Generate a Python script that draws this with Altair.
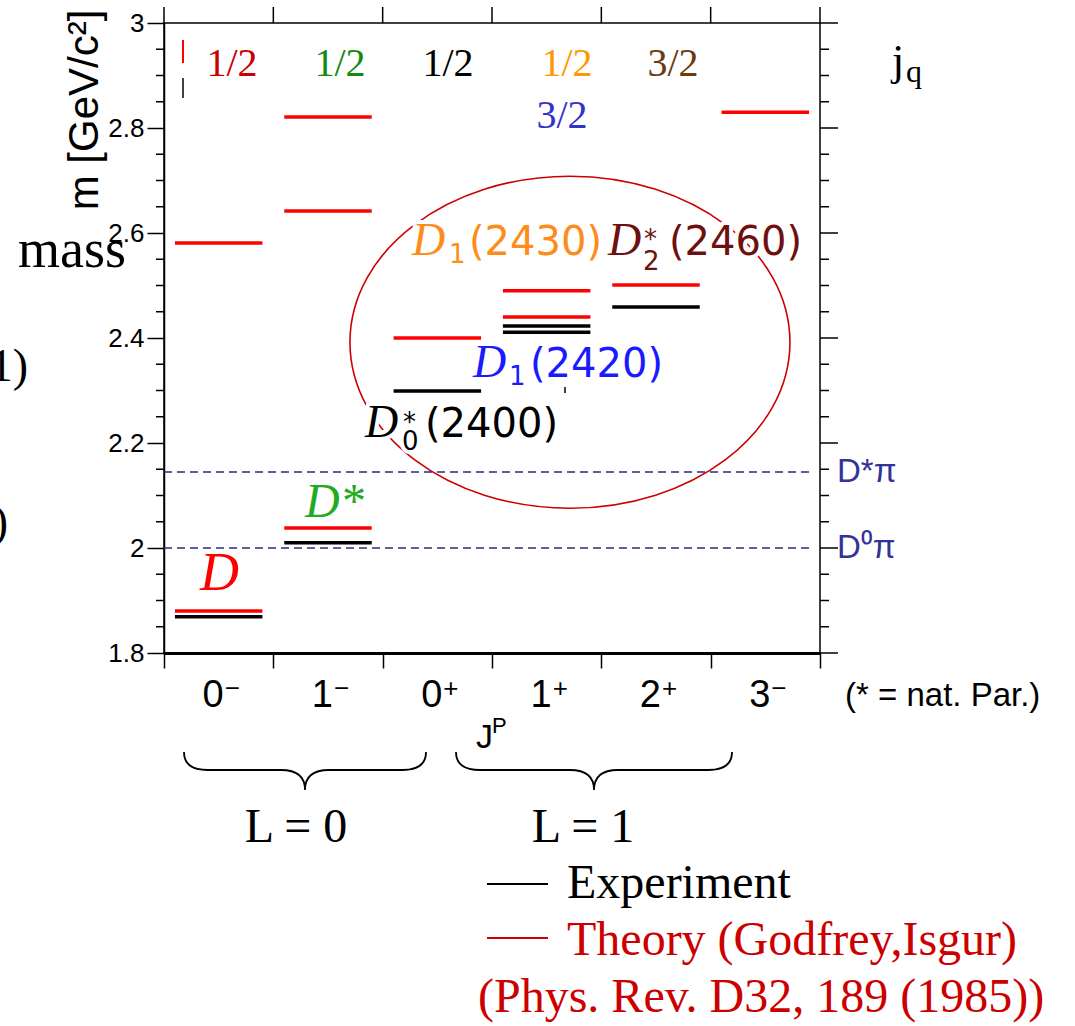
import altair as alt
import pandas as pd

# ---------------- data ----------------
jp_spin = ["0", "1", "0", "1", "2", "3"]
jp_parity = ["−", "−", "+", "+", "+", "−"]

theory_idx = [0, 0, 1, 1, 1, 2, 3, 3, 4, 5]
theory_mass = [1.880, 2.581, 2.038, 2.642, 2.821, 2.400, 2.440, 2.490, 2.501, 2.830]
exp_idx = [0, 1, 2, 3, 3, 4]
exp_mass = [1.869, 2.010, 2.299, 2.411, 2.423, 2.459]

thr_mass = [2.145, 2.000]
thr_text = ["D*π", "D⁰π"]

y_major = [1.8, 2.0, 2.2, 2.4, 2.6, 2.8, 3.0]
y_minor = [1.85, 1.9, 1.95, 2.05, 2.1, 2.15, 2.25, 2.3, 2.35, 2.45, 2.5, 2.55,
           2.65, 2.7, 2.75, 2.85, 2.9, 2.95]
x_ticks = [0, 1, 2, 3, 4, 5, 6]

# ---------------- layout ----------------
W, H = 656, 630
L0, T0 = 164, 23
xs = alt.Scale(domain=[0, 6], nice=False, zero=False)
ys = alt.Scale(domain=[1.8, 3.0], nice=False, zero=False)

BLUE = "#1a1aff"
ORANGE = "#ff8c1a"
MAROON = "#6e1010"


def pix_df(rows):
    df = pd.DataFrame(rows, columns=["text", "x", "y", "size", "color"])
    df["px"] = df["x"] - L0
    df["py"] = df["y"] - T0
    return df


def text_layer(rows, font, style="normal", align="left", halo=False):
    df = pix_df(rows)
    enc = dict(
        x=alt.X("px:Q", scale=None),
        y=alt.Y("py:Q", scale=None),
        text=alt.Text("text:N"),
        size=alt.Size("size:Q", scale=None, legend=None),
    )
    if halo:
        return alt.Chart(df).mark_text(font=font, fontStyle=style, align=align,
                                       baseline="alphabetic", fill="white",
                                       stroke="white", strokeWidth=8,
                                       strokeJoin="round").encode(**enc)
    return alt.Chart(df).mark_text(font=font, fontStyle=style, align=align,
                                   baseline="alphabetic").encode(
        color=alt.Color("color:N", scale=None, legend=None), **enc)


serif_center = [
    ("1/2", 232, 76, 40, "#cc0000"),
    ("1/2", 340, 76, 40, "#138a13"),
    ("1/2", 448, 76, 40, "#000000"),
    ("1/2", 567, 76, 40, "#ff9900"),
    ("3/2", 673, 76, 40, "#6b3a10"),
    ("3/2", 562, 128, 40, "#3333cc"),
    ("L = 0", 296, 842, 48, "#000000"),
    ("L = 1", 583, 842, 48, "#000000"),
]
serif_left = [
    ("mass", 18, 267, 54, "#000000"),
    ("j", 892, 75, 44, "#000000"),
    ("q", 906, 82, 32, "#000000"),
    ("Experiment", 567, 898, 48, "#000000"),
    ("Theory (Godfrey,Isgur)", 567, 955, 48, "#cc0000"),
    ("(Phys. Rev. D32, 189 (1985))", 478, 1012, 48, "#cc0000"),
]
serif_right = [
    ("(1)", 28, 381, 46, "#000000"),
    (")", 8, 537, 46, "#000000"),
]
italic_rows = [
    ("D", 200, 590, 54, "#ff0000"),
    ("D*", 305, 517, 48, "#22aa22"),
    ("D", 365, 437, 46, "#000000"),
    ("D", 473, 377, 46, BLUE),
    ("D", 412, 255, 46, ORANGE),
    ("D", 608, 255, 46, MAROON),
]
label_parts = [
    ("*", 403, 431, 26, "#000000"), ("0", 402, 450, 26, "#000000"),
    ("(2400)", 425, 437, 40, "#000000"),
    ("1", 509, 385, 26, BLUE), ("(2420)", 530, 377, 40, BLUE),
    ("1", 449, 263, 26, ORANGE), ("(2430)", 469, 255, 40, ORANGE),
    ("*", 644, 248, 26, MAROON), ("2", 643, 270, 26, MAROON),
    ("(2460)", 669, 255, 40, MAROON),
]
sans_left = [
    ("(* = nat. Par.)", 845, 706, 33, "#000000"),
    ("J", 476, 748, 34, "#000000"),
    ("P", 492, 733, 22, "#000000"),
]

# ---------------- marks ----------------
lev_df = pd.DataFrame({
    "idx": exp_idx + theory_idx,
    "mass": exp_mass + theory_mass,
    "color": ["#000000"] * len(exp_idx) + ["#ff0000"] * len(theory_idx),
})

levels = alt.Chart(lev_df).transform_calculate(
    x0="datum.idx + 0.1", x1="datum.idx + 0.9"
).mark_rule(strokeWidth=3.5).encode(
    x=alt.X("x0:Q", scale=xs, axis=alt.Axis(
        values=x_ticks, labels=False, title=None, tickSize=15, tickWidth=1.5,
        tickColor="black", domainColor="black", domainWidth=3, grid=False)),
    x2="x1:Q",
    y=alt.Y("mass:Q", scale=ys, axis=alt.Axis(
        values=y_major, format="~g", title=None, tickSize=17, tickWidth=1.5,
        tickColor="black", domainColor="black", domainWidth=1.5,
        labelFont="Liberation Sans", labelFontSize=26, labelColor="black",
        labelPadding=3, labelFlush=False, labelOverlap=False, grid=False)),
    color=alt.Color("color:N", scale=None, legend=None),
)

thr_df = pd.DataFrame({"mass": thr_mass, "label": thr_text})
thr_lines = alt.Chart(thr_df).mark_rule(
    strokeDash=[8, 5], strokeWidth=1.5, color="#2b2b80"
).encode(y=alt.Y("mass:Q", scale=ys), x=alt.value(0), x2=alt.value(650))
thr_labels = alt.Chart(thr_df).mark_text(
    align="left", baseline="middle", font="Liberation Sans", fontSize=33, color="#333399"
).encode(y=alt.Y("mass:Q", scale=ys), x=alt.value(673), text="label:N")

minor_df = pd.DataFrame({"v": y_minor})
major_df = pd.DataFrame({"v": y_major})
xt_df = pd.DataFrame({"v": x_ticks})
tick_style = dict(strokeWidth=1.5, color="black")
left_minor = alt.Chart(minor_df).mark_rule(**tick_style).encode(
    y=alt.Y("v:Q", scale=ys), x=alt.value(-8), x2=alt.value(0))
right_minor = alt.Chart(minor_df).mark_rule(**tick_style).encode(
    y=alt.Y("v:Q", scale=ys), x=alt.value(W), x2=alt.value(W + 9))
right_major = alt.Chart(major_df).mark_rule(**tick_style).encode(
    y=alt.Y("v:Q", scale=ys), x=alt.value(W), x2=alt.value(W + 18))
top_ticks = alt.Chart(xt_df).mark_rule(**tick_style).encode(
    x=alt.X("v:Q", scale=xs), y=alt.value(0), y2=alt.value(-16))

# x category labels (spin with parity superscript)
jp_df = pd.DataFrame({"idx": list(range(len(jp_spin))), "spin": jp_spin, "par": jp_parity})
jp_digits = alt.Chart(jp_df).transform_calculate(c="datum.idx + 0.5").mark_text(
    font="Liberation Sans", fontSize=38, align="right", baseline="alphabetic", dx=5, color="black"
).encode(x=alt.X("c:Q", scale=xs), y=alt.value(707 - T0), text="spin:N")
jp_par = alt.Chart(jp_df).transform_calculate(c="datum.idx + 0.5").mark_text(
    font="Liberation Sans", fontSize=26, align="left", baseline="alphabetic", dx=6, color="black"
).encode(x=alt.X("c:Q", scale=xs), y=alt.value(697 - T0), text="par:N")

# ellipse around the L=1 states
kx, ky, ry = 0.5523, 0.4167, 0.7545
ELLIPSE = (f"M1,0 C1,{ky} {kx},{ry} 0,{ry} C{-kx},{ry} -1,{ky} -1,0 "
           f"C-1,{-ky} {-kx},{-ry} 0,{-ry} C{kx},{-ry} 1,{-ky} 1,0 Z")
ell_df = pd.DataFrame({"u": [3.713], "m": [2.392]})
ellipse = alt.Chart(ell_df).mark_point(
    shape=ELLIPSE, size=440 ** 2, filled=False, color="#cc0000", strokeWidth=1.6, opacity=1
).encode(x=alt.X("u:Q", scale=xs), y=alt.Y("m:Q", scale=ys))


def brace_path(half, up, down, r=24, c=24):
    e, t, rr, cc = up / half, down / half, r / half, c / half
    return (f"M-1,{-e:.4f} Q-1,0 {-1 + rr:.4f},0 L{-cc:.4f},0 Q0,0 0,{t:.4f} "
            f"Q0,0 {cc:.4f},0 L{1 - rr:.4f},0 Q1,0 1,{-e:.4f}")


one = pd.DataFrame({"a": [0]})
brace0 = alt.Chart(one).mark_point(
    shape=brace_path(121, 18, 20), size=242 ** 2, filled=False, color="black",
    strokeWidth=1.8, opacity=1
).encode(x=alt.value(305 - L0), y=alt.value(770 - T0))
brace1 = alt.Chart(one).mark_point(
    shape=brace_path(138, 18, 20), size=276 ** 2, filled=False, color="black",
    strokeWidth=1.8, opacity=1
).encode(x=alt.value(594 - L0), y=alt.value(770 - T0))

seg_rows = [
    (183, 40, 183, 63, "#ff0000", 2.0),
    (183, 78, 183, 98, "#000000", 1.5),
    (565, 387, 565, 393, "#000000", 1.5),
    (487, 884, 548, 884, "#000000", 2.0),
    (487, 938, 548, 938, "#cc0000", 2.0),
]
seg_df = pd.DataFrame(seg_rows, columns=["x1", "y1", "x2", "y2", "color", "w"])
seg_df[["x1", "x2"]] -= L0
seg_df[["y1", "y2"]] -= T0
segments = alt.Chart(seg_df).mark_rule().encode(
    x=alt.X("x1:Q", scale=None), x2="x2:Q",
    y=alt.Y("y1:Q", scale=None), y2="y2:Q",
    color=alt.Color("color:N", scale=None, legend=None),
    strokeWidth=alt.StrokeWidth("w:Q", scale=None, legend=None),
)

title_df = pd.DataFrame({"t": ["m [GeV/c²]"]})
ytitle = alt.Chart(title_df).mark_text(
    font="Liberation Sans", fontSize=42, angle=270, align="center", baseline="middle", color="black"
).encode(x=alt.value(85 - L0), y=alt.value(110 - T0), text="t:N")

SERIF = "Liberation Serif"
SANS = "DejaVu Sans"

chart = alt.layer(
    levels,
    ellipse,
    text_layer(italic_rows[2:], SERIF, "italic", halo=True),
    text_layer(label_parts, SANS, halo=True),
    thr_lines,
    left_minor, right_minor, right_major, top_ticks,
    segments,
    thr_labels,
    jp_digits, jp_par,
    text_layer(serif_center, SERIF, align="center"),
    text_layer(serif_left, SERIF, align="left"),
    text_layer(serif_right, SERIF, align="right"),
    text_layer(italic_rows, SERIF, "italic"),
    text_layer(label_parts, SANS),
    text_layer(sans_left, "Liberation Sans"),
    ytitle,
    brace0, brace1,
).properties(
    width=W, height=H,
    autosize=alt.AutoSizeParams(type="none"),
    padding={"left": L0, "top": T0, "right": 1075 - L0 - W, "bottom": 1026 - T0 - H},
    background="white",
).configure_view(stroke="black", strokeWidth=1.5)

chart.save("out.html", embed_options={"renderer": "svg", "actions": False})
